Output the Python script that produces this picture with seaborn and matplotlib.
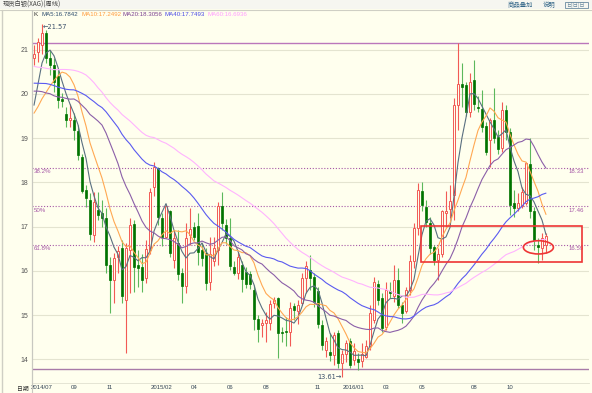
import numpy as np
import pandas as pd
import matplotlib
matplotlib.use('Agg')
import matplotlib.pyplot as plt
from matplotlib.patches import Rectangle, Ellipse
import seaborn as sns

# --------------------------
# Weekly candles, spot silver (XAG), one entry per week
# --------------------------
opens = [20.80, 20.95, 21.10, 21.37, 20.82, 20.65, 20.40, 19.89, 19.54, 19.41,
         19.41, 19.16, 18.57, 17.83, 17.60, 16.81, 17.37, 17.31, 17.19, 16.13,
         15.79, 16.32, 16.51, 15.33, 16.47, 17.06, 16.13, 16.09, 15.83, 16.47,
         17.90, 18.32, 17.19, 16.77, 17.34, 16.24, 16.62, 15.96, 15.66, 16.81,
         16.98, 17.01, 16.47, 16.41, 15.74, 16.21, 16.46, 17.46, 17.03, 16.73,
         16.09, 15.96, 16.13, 15.98, 15.93, 15.57, 14.91, 14.77, 14.81, 14.81,
         15.28, 15.38, 14.62, 14.65, 14.62, 15.21, 15.08, 15.28, 15.83, 16.02,
         15.85, 15.54, 14.78, 14.20, 14.17, 14.10, 14.59, 13.91, 14.12, 14.41,
         13.99, 14.01, 13.95, 14.06, 14.29, 14.89, 15.70, 15.38, 14.74, 15.55,
         15.42, 15.79, 15.23, 15.08, 15.57, 16.22, 16.96, 17.80, 17.45, 17.09,
         16.53, 16.24, 16.39, 17.30, 17.40, 17.71, 19.75, 20.22, 20.20, 19.60,
         20.31, 19.71, 19.66, 19.27, 18.96, 19.41, 19.03, 18.77, 19.63, 19.14,
         17.53, 17.41, 17.46, 17.53, 18.41, 17.34, 16.58, 16.51, 16.58]
highs = [21.10, 21.25, 21.57, 21.45, 20.99, 20.80, 20.54, 20.01, 19.71, 19.78,
         19.56, 19.30, 18.65, 17.94, 17.75, 17.79, 17.79, 17.60, 17.41, 16.32,
         16.40, 16.55, 16.70, 16.62, 17.19, 17.15, 16.47, 16.39, 16.70, 17.86,
         18.47, 18.35, 17.30, 17.49, 17.37, 16.92, 16.92, 16.06, 17.07, 17.41,
         17.11, 17.31, 16.62, 16.51, 16.76, 16.77, 17.56, 17.77, 17.16, 17.19,
         16.21, 16.43, 16.21, 16.09, 15.99, 15.68, 15.00, 14.90, 15.07, 15.34,
         15.41, 15.41, 14.73, 14.96, 15.30, 15.27, 15.35, 15.94, 16.22, 16.36,
         15.96, 15.64, 14.89, 14.51, 14.59, 14.62, 14.66, 14.21, 14.44, 14.47,
         14.36, 14.14, 14.36, 14.44, 15.23, 15.87, 15.79, 15.49, 15.75, 15.75,
         16.13, 16.06, 15.30, 15.64, 16.36, 17.07, 17.98, 18.01, 17.60, 17.22,
         16.59, 16.51, 17.37, 17.80, 17.95, 19.90, 21.14, 20.69, 20.27, 20.46,
         20.76, 19.94, 20.09, 19.37, 19.45, 20.12, 19.18, 19.82, 19.74, 19.22,
         17.83, 17.75, 17.90, 18.46, 18.99, 17.45, 16.73, 16.85, 16.85]
lows = [20.65, 20.73, 20.90, 20.69, 20.42, 20.05, 19.67, 19.71, 19.26, 19.26,
        18.96, 18.50, 17.75, 17.45, 16.70, 16.64, 17.15, 17.00, 15.94, 15.04,
        15.27, 15.94, 15.27, 14.15, 15.49, 15.53, 15.64, 15.53, 15.72, 16.39,
        17.68, 17.03, 16.55, 16.73, 16.32, 16.06, 15.79, 15.28, 15.49, 16.58,
        16.70, 16.13, 16.11, 15.57, 15.57, 16.11, 16.13, 16.92, 16.61, 16.02,
        15.91, 15.81, 15.53, 15.60, 15.58, 14.66, 14.38, 14.51, 14.40, 14.66,
        15.15, 14.02, 14.40, 14.29, 14.30, 14.89, 14.80, 15.23, 15.49, 15.57,
        15.19, 14.70, 14.21, 14.06, 13.95, 13.87, 13.80, 13.61, 13.94, 13.80,
        13.87, 13.76, 13.83, 14.02, 14.21, 14.81, 15.23, 14.62, 14.66, 15.38,
        15.30, 15.15, 14.81, 15.04, 15.45, 16.06, 16.81, 17.34, 17.00, 16.39,
        16.13, 15.79, 16.32, 17.00, 17.20, 17.15, 19.18, 19.71, 19.50, 19.48,
        19.63, 19.60, 19.14, 18.62, 18.35, 18.88, 18.65, 18.69, 18.95, 17.26,
        17.22, 17.34, 17.41, 17.49, 17.19, 16.47, 16.17, 16.24, 16.40]
closes = [20.91, 21.18, 21.38, 20.82, 20.65, 20.27, 19.86, 19.84, 19.41, 19.46,
          19.18, 18.62, 17.81, 17.64, 16.83, 17.56, 17.26, 17.19, 16.13, 15.79,
          16.30, 16.45, 15.43, 16.51, 17.04, 16.09, 16.06, 15.79, 16.49, 17.79,
          18.35, 17.22, 16.77, 17.46, 16.40, 16.73, 15.93, 15.66, 16.73, 16.94,
          16.77, 16.43, 16.28, 15.73, 16.39, 16.51, 17.46, 17.09, 16.73, 16.11,
          15.96, 16.32, 15.81, 15.70, 15.70, 14.90, 14.68, 14.81, 14.89, 15.25,
          15.34, 14.60, 14.59, 14.62, 15.17, 15.11, 15.22, 15.84, 16.11, 15.83,
          15.30, 14.80, 14.32, 14.41, 14.10, 14.55, 13.92, 14.12, 14.36, 13.86,
          14.19, 13.93, 14.13, 14.29, 15.04, 15.75, 15.34, 14.70, 15.57, 15.49,
          15.79, 15.23, 15.05, 15.57, 16.22, 16.96, 17.83, 17.49, 17.10, 16.51,
          16.24, 16.39, 17.34, 17.35, 17.58, 19.75, 20.22, 20.15, 19.60, 20.27,
          19.78, 19.68, 19.26, 18.69, 19.41, 19.00, 18.75, 19.63, 19.14, 17.49,
          17.41, 17.54, 17.77, 18.43, 17.34, 16.70, 16.53, 16.73, 16.79]

# closes of the weeks before the first visible candle (only feed the moving averages)
prior_closes = [22.3, 21.7, 22.0, 21.5, 21.3, 19.8, 19.6, 19.5, 19.8, 19.9,
                20.0, 19.9, 20.5, 21.7, 23.2, 24.1, 23.1, 23.6, 22.3, 21.8,
                21.3, 21.4, 21.0, 21.4, 21.4, 21.2, 20.8, 20.4, 19.9, 19.3,
                20.0, 19.6, 19.6, 19.7, 20.2, 20.3, 19.5, 19.9, 20.5, 21.0,
                21.2, 21.6, 21.4, 21.0, 21.2, 20.4, 20.0, 19.9, 19.8, 19.1,
                19.7, 19.6, 19.4, 19.2, 19.0, 18.8, 19.0, 19.7, 20.3]

ma_windows = [5, 10, 20, 40, 60]
ma_names = ['MA5', 'MA10', 'MA20', 'MA40', 'MA60']
ma_texts = ['MA5:16.7842', 'MA10:17.2492', 'MA20:18.3056', 'MA40:17.7493', 'MA60:16.6936']

tick_pos = [2, 10, 19, 32, 40, 49, 58, 71, 80, 88, 97, 110, 119]
tick_labels = ['2014/07', '09', '11', '2015/02', '04', '06', '08', '11',
               '2016/01', '03', '05', '08', '10']

fib_levels = [18.33, 17.46, 16.59]
fib_names = ['38.2%', '50%', '61.8%']
range_top = 21.14
range_bottom = 13.77
high_mark = (2, 21.57)
low_mark = (77, 13.61)

# --------------------------
# Styling
# --------------------------
bg = '#ffffee'
up_color = '#f25a55'
down_body = '#007300'
down_wick = '#5cb85c'
ma_line_colors = ['#596f80', '#ffa852', '#8b5fa8', '#5a5af0', '#ffb3ff']
ma_text_colors = ['#2d4d6d', '#ff9a3a', '#7a3f90', '#4a4ae6', '#ff9cff']
fib_color = '#a658a6'
num_font = ['Liberation Sans Narrow', 'Liberation Sans', 'DejaVu Sans']
cjk_font = ['Noto Sans CJK SC', 'DejaVu Sans']

sns.set_style('white', {'axes.facecolor': bg, 'figure.facecolor': bg})
plt.rcParams['font.family'] = num_font

W, H = 592, 393
fig = plt.figure(figsize=(W / 100, H / 100), dpi=100)
fig.patch.set_facecolor(bg)

ax_left, ax_right, ax_top, ax_bottom = 32, 589, 10, 383
ax = fig.add_axes([ax_left / W, 1 - ax_bottom / H,
                   (ax_right - ax_left) / W, (ax_bottom - ax_top) / H])
ax.set_facecolor(bg)

idx = np.arange(len(closes))
o = np.array(opens)
c = np.array(closes)
hi = np.array(highs)
lo = np.array(lows)
up = c >= o

# candles
ax.vlines(idx[up], lo[up], hi[up], colors=up_color, lw=0.8, zorder=2)
ax.vlines(idx[~up], lo[~up], hi[~up], colors=down_wick, lw=0.8, zorder=2)
body_bottom = np.minimum(o, c)
body_h = np.maximum(np.abs(c - o), 0.025)
ax.bar(idx[up], body_h[up], bottom=body_bottom[up], width=0.68,
       color=bg, edgecolor=up_color, linewidth=0.7, zorder=3)
ax.bar(idx[~up], body_h[~up], bottom=body_bottom[~up], width=0.72,
       color=down_body, edgecolor=down_body, linewidth=0.5, zorder=3)

# moving averages
all_close = pd.Series(prior_closes + closes)
frames = []
for name, win in zip(ma_names, ma_windows):
    ma = all_close.rolling(win).mean().iloc[len(prior_closes):].to_numpy()
    frames.append(pd.DataFrame({'idx': idx, 'value': ma, 'ma': name}))
ma_df = pd.concat(frames, ignore_index=True)
sns.lineplot(data=ma_df, x='idx', y='value', hue='ma', hue_order=ma_names,
             palette=dict(zip(ma_names, ma_line_colors)), estimator=None,
             linewidth=0.8, legend=False, ax=ax, zorder=4)

# fibonacci levels
ax.axhline(range_top, color='#bb77bb', lw=1.0, zorder=1)
ax.axhline(range_bottom, color='#a87ba8', lw=1.0, zorder=1)
for lev, name in zip(fib_levels, fib_names):
    ax.axhline(lev, color=fib_color, lw=0.8, ls=(0, (1, 1.6)), zorder=1)
    ax.text(0.0, lev - 0.03, name, color=fib_color, fontsize=4.4,
            ha='left', va='top', family=num_font)
    ax.text(137.5, lev - 0.03, f'{lev:.2f}', color=fib_color, fontsize=4.4,
            ha='right', va='top', family=num_font)

# high / low marks
ax.text(high_mark[0] + 0.1, high_mark[1] - 0.05, '\u2190' + f'{high_mark[1]:.2f}',
        fontsize=4.8, color='#3a4f6a', ha='left', va='center',
        family=['DejaVu Sans'])
ax.text(low_mark[0] - 0.2, low_mark[1] - 0.02, f'{low_mark[1]:.2f}' + '\u2192',
        fontsize=4.8, color='#3a4f6a', ha='right', va='center',
        family=['DejaVu Sans'])

# annotation box and ellipse
ax.add_patch(Rectangle((96.75, 16.20), 137 - 96.75, 17.01 - 16.20,
                       fill=False, edgecolor='#ee3535', lw=1.2, zorder=5))
ax.add_patch(Ellipse((126.1, 16.53), 7.5, 0.30, fill=False,
                     edgecolor='#ee3535', lw=1.2, zorder=5))

# axes, grid, ticks
ax.set_xlim(-0.5, 138.75)
ax.set_ylim(13.464, 21.894)
ax.set_yticks(range(14, 22))
ax.yaxis.grid(True, color='#e4e4d0', lw=0.8, zorder=0)
ax.xaxis.grid(False)
ax.set_axisbelow(True)
ax.set_xticks(tick_pos)
ax.set_xticklabels(tick_labels)
ax.tick_params(axis='x', length=0, pad=1.5, labelsize=4.3, labelcolor='#334455')
ax.tick_params(axis='y', length=0, pad=2.5, labelsize=5, labelcolor='#555555')
for side in ['top', 'right']:
    ax.spines[side].set_visible(False)
ax.spines['left'].set_color('#c8c8c0')
ax.spines['bottom'].set_color('#e0e0d0')
ax.spines['bottom'].set_linewidth(0.6)
ax.set_xlabel('')
ax.set_ylabel('')

# --------------------------
# Header strip and legend text
# --------------------------
def px(x, y):
    return x / W, 1 - y / H

fig.patches.append(Rectangle((0, 1 - 9 / H), 1, 9 / H, transform=fig.transFigure,
                             facecolor='#f6f6f0', edgecolor='none', zorder=0))
fig.add_artist(plt.Line2D([0, 1], [1 - 9.5 / H] * 2, transform=fig.transFigure,
                          color='#cfcfc4', lw=0.8))
fig.add_artist(plt.Line2D([2 / W] * 2, [0, 1 - 10 / H], transform=fig.transFigure,
                          color='#cfcfc4', lw=1.0))
fig.add_artist(plt.Line2D([ax_left / W] * 2, [0, 1 - 10 / H], transform=fig.transFigure,
                          color='#c8c8c0', lw=0.8))

fig.text(*px(3, 5), '现货白银(XAG)(周线)', fontsize=4.5, color='#404040',
         va='center', ha='left', family=cjk_font)
fig.text(*px(508, 5), '商品叠加', fontsize=4.6, color='#336688',
         va='center', ha='left', family=cjk_font)
fig.text(*px(543, 5), '说明', fontsize=4.6, color='#336688',
         va='center', ha='left', family=cjk_font)
fig.patches.append(Rectangle(px(565, 8), 23 / W, 6 / H, transform=fig.transFigure,
                             facecolor='none', edgecolor='#6a8aa0', lw=0.6))
fig.text(*px(566, 5), '日|日|日', fontsize=3.8, color='#6a8aa0',
         va='center', ha='left', family=cjk_font)
fig.text(*px(17, 389), '日期', fontsize=4.2, color='#333333',
         va='center', ha='left', family=cjk_font)

fig.text(*px(33, 14.5), 'K', fontsize=4.6, color='#333333', va='center', ha='left',
         family=num_font)
for xpos, txt, col in zip([41, 81.5, 122.5, 164.5, 208], ma_texts, ma_text_colors):
    fig.text(*px(xpos, 14.5), txt, fontsize=4.4, color=col, va='center', ha='left',
             family=num_font)

fig.savefig('out.png', dpi=100, facecolor=bg)
